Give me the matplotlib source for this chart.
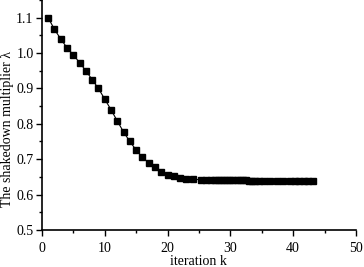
import matplotlib
matplotlib.use("Agg")
import matplotlib.pyplot as plt
from matplotlib.ticker import MultipleLocator

# iteration number k and shakedown multiplier lambda
k = [1, 2, 3, 4, 5, 6, 7, 8, 9, 10, 11, 12, 13, 14, 15, 16, 17, 18, 19, 20,
     21, 22, 23, 24, 25.3, 26.2, 27, 27.5, 28, 28.5, 29, 29.5, 30, 30.5, 31,
     31.5, 32, 32.5, 33, 33.5, 34, 34.5, 35.3, 36.3, 37.4, 38.4, 39.5, 40.3,
     41, 41.7, 42.4, 43.2]
lam = [1.100, 1.067, 1.040, 1.015, 0.995, 0.973, 0.950, 0.925, 0.900, 0.870,
       0.840, 0.808, 0.777, 0.750, 0.726, 0.705, 0.690, 0.677, 0.663, 0.656,
       0.651, 0.647, 0.645, 0.643, 0.642, 0.641, 0.640, 0.640, 0.640, 0.640,
       0.640, 0.640, 0.640, 0.640, 0.640, 0.640, 0.640, 0.640, 0.639, 0.639,
       0.639, 0.639, 0.638, 0.638, 0.638, 0.638, 0.638, 0.638, 0.638, 0.638,
       0.638, 0.638]

plt.rcParams['font.family'] = ['Liberation Serif', 'DejaVu Serif']
plt.rcParams['font.size'] = 10

fig = plt.figure(figsize=(3.64, 2.67), dpi=100)
ax = fig.add_axes([0.115, 0.139, 0.863, 0.861])
ax.plot(k, lam, color='black', linewidth=0.8, marker='s', markersize=5,
        markerfacecolor='black', markeredgecolor='black')

ax.set_xlim(0, 50)
ax.set_ylim(0.5, 1.15)
ax.set_xticks([0, 10, 20, 30, 40, 50])
ax.set_yticks([0.5, 0.6, 0.7, 0.8, 0.9, 1.0, 1.1])
ax.xaxis.set_minor_locator(MultipleLocator(5))
ax.yaxis.set_minor_locator(MultipleLocator(0.05))
ax.tick_params(which='major', direction='out', length=4, width=1, pad=2)
ax.tick_params(which='minor', direction='out', length=2, width=1)
ax.tick_params(axis='x', which='major', pad=5)
ax.spines['top'].set_visible(False)
ax.spines['right'].set_visible(False)
ax.spines['left'].set_linewidth(1.2)
ax.spines['bottom'].set_linewidth(1.2)

ax.set_xlabel("iteration k", fontsize=10, labelpad=0)
ax.set_ylabel("The shakedown multiplier λ", fontsize=10)
ax.yaxis.set_label_coords(-0.09, 0.44)

fig.savefig("out.png", dpi=100)
